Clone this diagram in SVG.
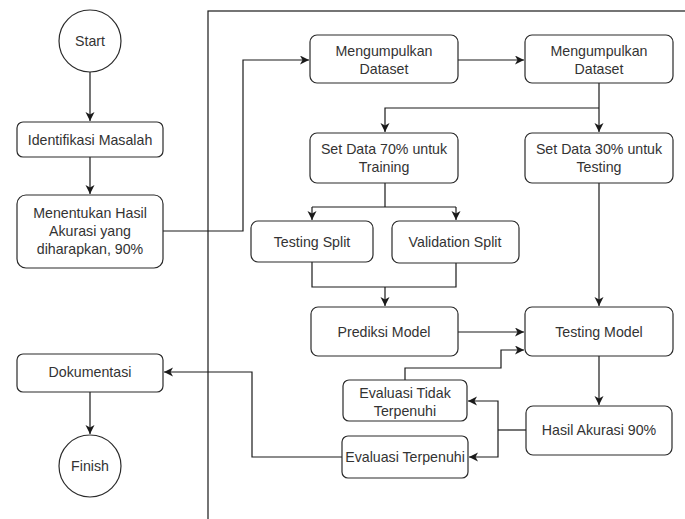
<svg xmlns="http://www.w3.org/2000/svg" width="685" height="519" viewBox="0 0 685 519">
<style>
.n{fill:#fff;stroke:#2a2a2a;stroke-width:1.2}
.t{font-family:"Liberation Sans",Arial,sans-serif;font-size:14.2px;fill:#333;text-anchor:middle;dominant-baseline:central}
.c{fill:none;stroke:#1a1a1a;stroke-width:1.2}
.a{marker-end:url(#arr)}
</style>
<defs>
<marker id="arr" markerUnits="userSpaceOnUse" markerWidth="10" markerHeight="10" refX="9" refY="4.5" orient="auto">
<path d="M0,0 L9,4.5 L0,9 L2.5,4.5 z" fill="#1a1a1a"/>
</marker>
</defs>
<rect width="685" height="519" fill="#fff"/>
<rect x="208" y="11" width="500" height="530" fill="none" stroke="#1a1a1a" stroke-width="1.2"/>
<g id="connectors">
<path class="c a" d="M90,72 V121"/>
<path class="c a" d="M90,157 V194"/>
<path class="c a" d="M163,231 H243 V60 H309"/>
<path class="c a" d="M458,60 H524"/>
<path class="c a" d="M599,83 V132"/>
<path class="c a" d="M599,108 H385 V132"/>
<path class="c" d="M385,183 V207 M312,207 H456"/>
<path class="c a" d="M312,207 V220"/>
<path class="c a" d="M456,207 V220"/>
<path class="c" d="M312,262 V287 H456 V263"/>
<path class="c a" d="M385,287 V306"/>
<path class="c a" d="M458,332 H524"/>
<path class="c a" d="M599,183 V306"/>
<path class="c a" d="M405,380 V368 H501 V350 H524"/>
<path class="c a" d="M599,356 V405"/>
<path class="c" d="M526,430 H498"/>
<path class="c a" d="M498,430 V401 H468"/>
<path class="c a" d="M498,430 V457 H469"/>
<path class="c a" d="M342,457 H252 V372 H164"/>
<path class="c a" d="M90,392 V434"/>
</g>
<g id="start"><circle class="n" cx="90" cy="41" r="31"/><text class="t" x="90" y="41">Start</text></g>
<g id="identifikasi"><rect class="n" x="17" y="122" width="146" height="35" rx="6"/><text class="t" x="90" y="140">Identifikasi Masalah</text></g>
<g id="menentukan"><rect class="n" x="17" y="195" width="146" height="73" rx="9"/><text class="t" x="90" y="213">Menentukan Hasil</text><text class="t" x="90" y="231">Akurasi yang</text><text class="t" x="90" y="249">diharapkan, 90%</text></g>
<g id="dataset1"><rect class="n" x="310" y="35" width="148" height="48" rx="7"/><text class="t" x="384" y="51">Mengumpulkan</text><text class="t" x="384" y="69">Dataset</text></g>
<g id="dataset2"><rect class="n" x="525" y="35" width="148" height="48" rx="7"/><text class="t" x="599" y="51">Mengumpulkan</text><text class="t" x="599" y="69">Dataset</text></g>
<g id="set70"><rect class="n" x="310" y="133" width="148" height="50" rx="7"/><text class="t" x="384" y="149">Set Data 70% untuk</text><text class="t" x="384" y="167">Training</text></g>
<g id="set30"><rect class="n" x="525" y="133" width="148" height="50" rx="7"/><text class="t" x="599" y="149">Set Data 30% untuk</text><text class="t" x="599" y="167">Testing</text></g>
<g id="testingsplit"><rect class="n" x="251" y="221" width="122" height="41" rx="7"/><text class="t" x="312" y="242">Testing Split</text></g>
<g id="validationsplit"><rect class="n" x="392" y="221" width="127" height="42" rx="7"/><text class="t" x="455" y="242">Validation Split</text></g>
<g id="prediksi"><rect class="n" x="311" y="307" width="147" height="49" rx="7"/><text class="t" x="384" y="332">Prediksi Model</text></g>
<g id="testingmodel"><rect class="n" x="525" y="307" width="148" height="49" rx="7"/><text class="t" x="599" y="332">Testing Model</text></g>
<g id="evaltidak"><rect class="n" x="343" y="380" width="124" height="41" rx="6"/><text class="t" x="405" y="393">Evaluasi Tidak</text><text class="t" x="405" y="411">Terpenuhi</text></g>
<g id="hasil"><rect class="n" x="526" y="406" width="146" height="49" rx="7"/><text class="t" x="599" y="430">Hasil Akurasi 90%</text></g>
<g id="evalterpenuhi"><rect class="n" x="342" y="436" width="126" height="42" rx="6"/><text class="t" x="405" y="457">Evaluasi Terpenuhi</text></g>
<g id="dokumentasi"><rect class="n" x="17" y="354" width="146" height="38" rx="6"/><text class="t" x="90" y="372">Dokumentasi</text></g>
<g id="finish"><circle class="n" cx="90" cy="466" r="31"/><text class="t" x="90" y="466">Finish</text></g>
</svg>
